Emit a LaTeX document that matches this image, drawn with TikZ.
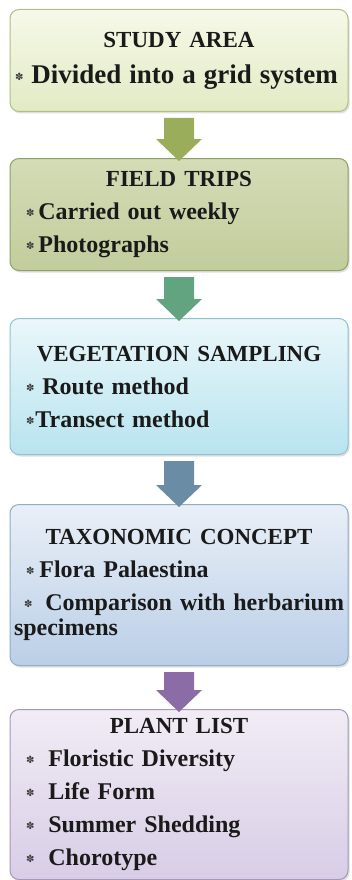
\documentclass[tikz,border=0pt]{standalone}
\usepackage{fontspec}
\setmainfont{Liberation Serif}
\newfontfamily\symfont{DejaVu Sans}
\usepackage{tikz}
\usetikzlibrary{positioning,shadows}
\definecolor{ink}{HTML}{1A1A1A}
\definecolor{areatop}{HTML}{F6F9E8}
\definecolor{areabot}{HTML}{E2EAC4}
\definecolor{areaedge}{HTML}{AFBF85}
\definecolor{tripstop}{HTML}{D3DCB6}
\definecolor{tripsbot}{HTML}{C2CD9C}
\definecolor{tripsedge}{HTML}{8F9F68}
\definecolor{samptop}{HTML}{EAF7FA}
\definecolor{sampbot}{HTML}{B8E4EF}
\definecolor{sampedge}{HTML}{8FC3D0}
\definecolor{conctop}{HTML}{E9EFF7}
\definecolor{concbot}{HTML}{BACFE7}
\definecolor{concedge}{HTML}{92ABCB}
\definecolor{planttop}{HTML}{F1ECF5}
\definecolor{plantbot}{HTML}{D8CDE6}
\definecolor{plantedge}{HTML}{A597BA}
\definecolor{arrA}{HTML}{9AAD5B}
\definecolor{arrB}{HTML}{62A47F}
\definecolor{arrC}{HTML}{6A8DA5}
\definecolor{arrD}{HTML}{8B6CA7}
% bullet: indent before, gap after
\newcommand{\bul}[2]{\hspace*{#1pt}\raisebox{3pt}{\symfont\fontsize{10}{10}\selectfont\color{darkgray}✽}\hspace{#2pt}}
\newcommand{\heading}[1]{{\centering\fontsize{23}{26}\selectfont #1\par}}
\newcommand{\flowarrow}[3]{%
  \fill[#3] ([xshift=-15pt,yshift=-6pt]#1.south) -- ([xshift=15pt,yshift=-6pt]#1.south)
    -- ([xshift=15pt,yshift=19pt]#2.north) -- ([xshift=23pt,yshift=19pt]#2.north)
    -- ([yshift=-3pt]#2.north) -- ([xshift=-23pt,yshift=19pt]#2.north)
    -- ([xshift=-15pt,yshift=19pt]#2.north) -- cycle;}

\begin{document}
\begin{tikzpicture}[x=1pt,y=1pt,
      every node/.style={font=\bfseries\fontsize{24}{25}\selectfont,text=ink},
      stage/.style={draw,line width=1pt,rounded corners=9pt,minimum width=338pt,text width=330pt,
        inner xsep=4pt,inner ysep=5pt,align=left,
        execute at begin node={\setlength{\parskip}{8pt}},
        drop shadow={opacity=.25,shadow xshift=1.5pt,shadow yshift=-2pt}}]
      \useasboundingbox (0,0) rectangle (351,-880);
      \node[stage,draw=areaedge,top color=areatop,bottom color=areabot,minimum height=102pt,anchor=north] (area) at (179,-9)
        {\heading{STUDY AREA}{\fontsize{27}{28}\selectfont\bul{1}{8}Divided into a grid system\par}};
      \node[stage,draw=tripsedge,top color=tripstop,bottom color=tripsbot,minimum height=112pt,below=46pt of area] (trips)
        {\heading{FIELD TRIPS}\bul{12}{4}Carried out weekly\par\bul{12}{4}Photographs};
      \node[stage,draw=sampedge,top color=samptop,bottom color=sampbot,minimum height=136pt,below=47pt of trips] (sampling)
        {\heading{VEGETATION SAMPLING}\bul{12}{8}Route method\par\bul{12}{1}Transect method};
      \node[stage,draw=concedge,top color=conctop,bottom color=concbot,minimum height=161pt,below=49pt of sampling] (concept)
        {\heading{TAXONOMIC CONCEPT}\bul{12}{5}Flora Palaestina\par
         \makebox[\linewidth][s]{\bul{10}{13}Comparison with herbarium}\\specimens};
      \node[stage,draw=plantedge,top color=planttop,bottom color=plantbot,minimum height=170pt,below=43pt of concept] (plants)
        {\heading{PLANT LIST}\bul{12}{14}Floristic Diversity\par\bul{12}{14}Life Form\par
         \bul{12}{14}Summer Shedding\par\bul{12}{14}Chorotype};
      \flowarrow{area}{trips}{arrA}
      \flowarrow{trips}{sampling}{arrB}
      \flowarrow{sampling}{concept}{arrC}
      \flowarrow{concept}{plants}{arrD}
    \end{tikzpicture}
\end{document}
